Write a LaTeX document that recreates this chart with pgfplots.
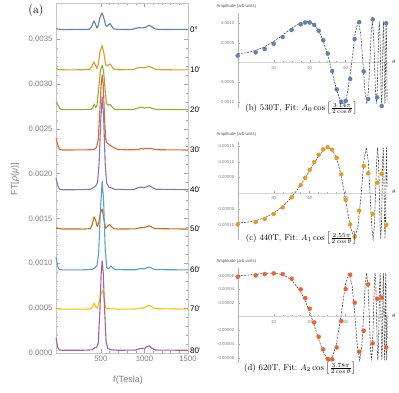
\documentclass[border=0pt]{standalone}
\usepackage{pgfplots}
\pgfplotsset{compat=1.18}
\usepackage{fontspec}
\newfontfamily\mma{Liberation Sans}
\definecolor{cA}{HTML}{5E81B5}
\definecolor{cB}{HTML}{E19C24}
\definecolor{cC}{HTML}{8FB032}
\definecolor{cD}{HTML}{EB6235}
\definecolor{cE}{HTML}{8778B3}
\definecolor{cF}{HTML}{C56E1A}
\definecolor{cG}{HTML}{5D9EC7}
\definecolor{cH}{HTML}{FFBF00}
\definecolor{cI}{HTML}{A5609D}

\pgfplotsset{
  rpanel/.style={scale only axis, anchor=south west, width=151.2pt,
    xmin=0, xmax=84, axis lines=middle, axis line style={-},
    x axis line style={gray!35, line width=1pt},
    y axis line style={gray!60, line width=0.4pt},
    xtick={20,40,60}, minor x tick num=3,
    tick style={gray!70, line width=0.4pt}, tick align=inside,
    major tick length=2.5pt, minor tick length=1.5pt,
    ticklabel style={font=\mma\fontsize{4.3}{5}\selectfont, text=gray},
    /pgf/number format/assume math mode=true,
    scaled y ticks=false, clip=false},
  fitline/.style={gray!60!black, line width=0.6pt, dash pattern=on 2pt off 1.2pt},
  pts/.style={only marks, mark=*, mark size=2pt},
  spec/.style={line width=1.1pt, line join=round},
}

\begin{document}
\begin{tikzpicture}
\useasboundingbox (0pt,0pt) rectangle (399pt,393pt);

% (a) spectra
\begin{axis}[at={(56pt,40pt)}, anchor=south west, scale only axis,
  width=132pt, height=350pt,
  xmin=-15, xmax=1500, ymin=0, ymax=0.0039,
  xtick={500,1000,1500}, ytick={0,0.0005,0.001,0.0015,0.002,0.0025,0.003,0.0035},
  minor x tick num=4, minor y tick num=4,
  tick align=inside, major tick length=4pt, minor tick length=2pt,
  axis line style={gray!45}, tick style={gray!70},
  ticklabel style={font=\mma\fontsize{7.8}{9}\selectfont, text=gray},
  /pgf/number format/assume math mode=true,
  /pgf/number format/1000 sep={},
  yticklabel style={/pgf/number format/.cd, fixed, fixed zerofill, precision=4},
  scaled y ticks=false, clip=false]
\addplot[spec, cA] coordinates {(-15,0.003612) (40,0.003606) (100,0.003603) (200,0.003606) (300,0.003604) (370,0.003608) (395,0.00364) (420,0.0037) (440,0.00366) (455,0.00362) (470,0.00365) (490,0.00374) (515,0.00379) (535,0.00373) (555,0.00365) (570,0.00364) (590,0.00366) (607,0.00367) (625,0.00364) (650,0.00361) (700,0.003606) (800,0.003604) (870,0.003608) (900,0.003618) (940,0.003625) (975,0.003622) (1010,0.003628) (1040,0.003645) (1060,0.00365) (1085,0.003635) (1120,0.003612) (1160,0.003606) (1250,0.003604) (1350,0.003606) (1500,0.003605)};
\addplot[spec, cB] coordinates {(-15,0.00317) (20,0.003158) (100,0.003155) (300,0.003156) (375,0.003162) (400,0.0032) (420,0.003244) (440,0.003205) (455,0.00317) (470,0.00322) (490,0.00336) (515,0.003426) (535,0.00334) (555,0.00321) (575,0.0032) (600,0.003222) (620,0.0032) (650,0.003162) (700,0.003156) (870,0.003158) (910,0.003175) (960,0.00318) (1000,0.003178) (1030,0.003188) (1055,0.003192) (1085,0.00318) (1120,0.003162) (1200,0.003156) (1500,0.003155)};
\addplot[spec, cC] coordinates {(-15,0.00279) (10,0.00276) (30,0.00272) (60,0.002712) (300,0.002713) (390,0.002716) (410,0.00274) (425,0.002775) (440,0.00273) (455,0.00276) (475,0.00295) (495,0.00315) (515,0.003206) (532,0.00313) (550,0.00292) (565,0.00278) (585,0.00276) (605,0.00277) (625,0.002745) (655,0.002716) (700,0.002713) (880,0.002714) (920,0.002728) (960,0.00274) (1000,0.00273) (1055,0.002738) (1100,0.002722) (1150,0.002714) (1500,0.002712)};
\addplot[spec, cD] coordinates {(-15,0.00239) (5,0.00232) (25,0.002268) (60,0.002262) (300,0.002263) (420,0.002266) (450,0.00229) (470,0.00238) (488,0.0027) (503,0.00298) (515,0.0031) (528,0.00298) (543,0.0026) (556,0.00238) (570,0.00234) (600,0.00232) (630,0.0023) (665,0.00228) (700,0.002268) (800,0.002264) (940,0.002266) (960,0.00228) (985,0.002272) (1010,0.00228) (1040,0.002276) (1070,0.002282) (1100,0.002272) (1150,0.002265) (1500,0.002262)};
\addplot[spec, cE] coordinates {(-15,0.00195) (5,0.00187) (25,0.001825) (60,0.001819) (300,0.00182) (380,0.001825) (410,0.00184) (440,0.00186) (462,0.0019) (480,0.00212) (498,0.00258) (515,0.002854) (532,0.00262) (550,0.0021) (567,0.00189) (590,0.00185) (620,0.00184) (660,0.001824) (800,0.00182) (880,0.001822) (920,0.00184) (960,0.001848) (1000,0.001842) (1030,0.001855) (1058,0.001865) (1090,0.001845) (1130,0.001825) (1500,0.001819)};
\addplot[spec, cF] coordinates {(-15,0.00139) (60,0.001382) (300,0.001381) (380,0.001385) (400,0.00143) (420,0.001515) (440,0.00148) (458,0.00141) (475,0.00145) (495,0.00156) (515,0.001604) (535,0.00149) (555,0.00139) (575,0.00141) (600,0.001433) (620,0.00141) (650,0.001385) (700,0.001381) (900,0.001383) (950,0.001395) (1000,0.001398) (1030,0.00141) (1055,0.001418) (1085,0.001402) (1120,0.001386) (1500,0.001381)};
\addplot[spec, cG] coordinates {(-15,0.00107) (5,0.00096) (25,0.00093) (60,0.000926) (300,0.000927) (400,0.00093) (430,0.00095) (455,0.00097) (475,0.00112) (495,0.0016) (515,0.001912) (532,0.00168) (550,0.00115) (568,0.00095) (590,0.00094) (615,0.00097) (635,0.00095) (660,0.00093) (800,0.000927) (900,0.000928) (950,0.00094) (1000,0.000938) (1030,0.00095) (1058,0.000958) (1090,0.00094) (1130,0.000929) (1500,0.000926)};
\addplot[spec, cH] coordinates {(-15,0.000492) (100,0.000488) (380,0.00049) (400,0.00051) (425,0.000555) (445,0.00051) (460,0.0005) (480,0.00057) (500,0.00066) (518,0.000695) (535,0.00062) (555,0.0005) (580,0.000495) (620,0.000492) (700,0.000488) (900,0.00049) (950,0.000502) (990,0.0005) (1030,0.00052) (1055,0.000532) (1085,0.000515) (1120,0.000494) (1500,0.000488)};
\addplot[spec, cI] coordinates {(-15,0.00017) (5,0.00006) (25,0.000034) (60,0.00003) (300,0.000031) (400,0.000035) (430,0.00006) (450,0.00006) (470,0.00011) (490,0.0005) (503,0.00088) (515,0.001027) (528,0.00088) (542,0.0005) (560,0.00012) (580,0.00005) (620,0.000035) (700,0.00003) (900,0.000033) (950,0.00005) (1000,0.000048) (1030,0.00007) (1058,0.00008) (1090,0.00005) (1130,0.000033) (1500,0.00003)};
\foreach \b/\t in {0.003605/0, 0.003155/10, 0.002712/20, 0.002262/30, 0.001819/40, 0.001381/50, 0.000926/60, 0.000488/70, 0.00003/80}{
  \edef\tmp{\noexpand\node[anchor=west, inner sep=0pt, xshift=2pt, font=\noexpand\mma\noexpand\fontsize{8}{9}\noexpand\selectfont] at (axis cs:1500,\b) {\t°};}
  \tmp
}
\end{axis}
\node[font=\fontsize{12}{14}\selectfont] at (36pt,382pt) {(a)};
\node[rotate=90, font=\mma\fontsize{9}{10}\selectfont, text=gray] at (15pt,214pt) {FT[\textit{ρ}(\textit{μ})]};
\node[font=\mma\fontsize{9}{10}\selectfont, text=gray] at (128pt,13pt) {f(Tesla)};

\fill[white] (200pt,0pt) rectangle (399pt,393pt);

% (b) 530T
\begin{axis}[rpanel, at={(237.7pt,285.4pt)}, height=94.1pt,
  ymin=-0.00115, ymax=0.00125,
  ytick={-0.001,-0.0005,0.0005,0.001}, minor y tick num=4,
  yticklabel style={/pgf/number format/.cd, fixed, fixed zerofill, precision=4}]
\addplot[fitline] coordinates {(0,0.000229) (5,0.000249) (10,0.000306) (15,0.000403) (20,0.000537) (25,0.0007) (30,0.000874) (35,0.001014) (37.5,0.001048) (38.28,0.00105) (40,0.001037) (42.5,0.000964) (45,0.000807) (47.5,0.000551) (50,0.000189) (52.5,-0.000257) (55,-0.000712) (57.5,-0.001019) (58.44,-0.00105) (60,-0.00095)
 (61.11,-0.000742) (63.35,0) (65.25,0.000742) (66.89,0.00105) (68.32,0.000742) (69.58,0) (70.70,-0.000742) (71.70,-0.00105) (72.60,-0.000742) (73.41,0) (74.16,0.000742) (74.83,0.00105) (75.45,0.000742) (76.02,0) (76.55,-0.000742) (77.04,-0.00105) (77.49,-0.000742) (77.92,0) (78.31,0.000742) (78.68,0.00105) (79.03,0.000742) (79.36,0) (79.66,-0.000742) (79.96,-0.00105) (80.23,-0.000742) (80.49,0) (80.74,0.000742) (80.97,0.00105) (81.19,0.000742) (81.40,0) (81.61,-0.000742) (81.80,-0.00105) (81.98,-0.000742) (82.15,0) (82.32,0.000742) (82.48,0.00105) (82.63,0.000742) (82.78,0) (82.93,-0.000742) (83,-0.00098)};
\addplot[pts, cA] coordinates {(0,0.000174) (10,0.00026) (15,0.000345) (20,0.00048) (25,0.00065) (30,0.00083) (35,0.000974) (37.5,0.00102) (40,0.00102) (42.5,0.00096) (45,0.00081) (47.5,0.00057) (50,0.000226) (52.5,-0.000217) (55,-0.000685) (57.5,-0.001) (60,-0.00098) (62.5,-0.00042) (65,0.0006) (67.5,0.00103) (70,-0.000226) (72.5,-0.00093) (75,0.0011) (77.5,-0.00089) (80,-0.00111) (82.5,0.001)};
\node[anchor=west, font=\fontsize{5}{6}\selectfont\itshape, inner sep=0pt, xshift=3pt, yshift=1pt] at (axis cs:84,0) {$\theta$};
\end{axis}
\node[anchor=west, font=\mma\fontsize{4.3}{5}\selectfont, text=gray!70!black] at (213pt,386.3pt) {Amplitude (arb units)};
\node[font=\fontsize{8.5}{10}\selectfont] at (301.3pt,284.7pt) {(b) 530T, Fit:\ $A_0\cos\left[\frac{3.14\pi}{2\cos\theta}\right]$};

% (c) 440T
\begin{axis}[rpanel, at={(237.7pt,153.2pt)}, height=97.6pt,
  ymin=-0.000148, ymax=0.000162,
  ytick={-0.0001,-0.00005,0.00005,0.0001,0.00015}, minor y tick num=4,
  yticklabel style={/pgf/number format/.cd, fixed, fixed zerofill, precision=5}]
\addplot[fitline] coordinates {(0,-0.0000942) (5,-0.0000924) (10,-0.0000873) (15,-0.0000777) (20,-0.0000631) (25,-0.0000419) (30,-0.0000126) (35,0.0000257) (37.5,0.0000479) (40,0.0000716) (42.5,0.0000957) (45,0.0001182) (47.5,0.000136) (50,0.0001448) (50.39,0.000145) (52.5,0.0001387) (55,0.0001109) (57.5,0.0000564) (60,-0.0000227)
 (62.38,-0.0001025) (64.85,-0.000145) (66.90,-0.0001025) (68.64,0) (70.12,0.0001025) (71.41,0.000145) (72.54,0.0001025) (73.54,0) (74.43,-0.0001025) (75.23,-0.000145) (75.94,-0.0001025) (76.60,0) (77.19,0.0001025) (77.73,0.000145) (78.23,0.0001025) (78.69,0) (79.11,-0.0001025) (79.51,-0.000145) (79.87,-0.0001025) (80.21,0) (80.53,0.0001025) (80.83,0.000145) (81.11,0.0001025) (81.37,0) (81.62,-0.0001025) (81.85,-0.000145) (82.08,-0.0001025) (82.29,0) (82.48,0.0001025) (82.67,0.000145) (82.85,0.0001025) (83,0.0000173)};
\addplot[pts, cB] coordinates {(0,-0.0000991) (10,-0.0000916) (15,-0.000082) (20,-0.000066) (25,-0.000045) (30,-0.000013) (35,0.000026) (37.5,0.000049) (40,0.000074) (42.5,0.000099) (45,0.000122) (47.5,0.000139) (50,0.000146) (52.5,0.000138) (55,0.000112) (57.5,0.00006) (60,-0.0000216) (62.5,-0.000099) (65,-0.000138) (67.5,-0.0000555) (70,0.0000863) (72.5,0.000063) (75,-0.000066) (77.5,0.0000335) (80,0.000061) (82.5,-0.000101)};
\node[anchor=west, font=\fontsize{5}{6}\selectfont\itshape, inner sep=0pt, xshift=3pt, yshift=1pt] at (axis cs:84,0) {$\theta$};
\end{axis}
\node[anchor=west, font=\mma\fontsize{4.3}{5}\selectfont, text=gray!70!black] at (213pt,258.5pt) {Amplitude (arb units)};
\node[font=\fontsize{8.5}{10}\selectfont] at (301.3pt,154.7pt) {(c) 440T, Fit:\ $A_1\cos\left[\frac{2.55\pi}{2\cos\theta}\right]$};

% (d) 620T
\begin{axis}[rpanel, at={(237.7pt,29.8pt)}, height=95pt,
  ymin=-0.000068, ymax=0.000071,
  ytick={-0.00006,-0.00004,-0.00002,0.00002,0.00004,0.00006}, minor y tick num=3,
  yticklabel style={/pgf/number format/.cd, fixed, fixed zerofill, precision=5}]
\addplot[fitline] coordinates {(0,0.0000602) (5,0.0000607) (10,0.000062) (15,0.0000634) (19.09,0.000064) (25,0.0000617) (30,0.0000538) (35,0.0000364) (37.5,0.0000231) (40,0.0000066) (42.5,-0.0000127) (45,-0.0000331) (47.5,-0.0000515) (50,-0.0000629) (50.95,-0.000064) (52.5,-0.0000606) (55,-0.0000384) (57.5,0.0000036) (60,0.0000493)
 (61.80,0.000064) (63.59,0.0000452) (65.17,0) (66.55,-0.0000452) (67.79,-0.000064) (68.90,-0.0000452) (69.90,0) (70.81,0.0000452) (71.64,0.000064) (72.40,0.0000452) (73.09,0) (73.74,-0.0000452) (74.34,-0.000064) (74.89,-0.0000452) (75.40,0) (75.88,0.0000452) (76.33,0.000064) (76.76,0.0000452) (77.15,0) (77.53,-0.0000452) (77.88,-0.000064) (78.21,-0.0000452) (78.53,0) (78.83,0.0000452) (79.11,0.000064) (79.37,0.0000452) (79.63,0) (79.87,-0.0000452) (80.11,-0.000064) (80.33,-0.0000452) (80.54,0) (80.74,0.0000452) (80.94,0.000064) (81.12,0.0000452) (81.30,0) (81.48,-0.0000452) (81.64,-0.000064) (81.80,-0.0000452) (81.95,0) (82.10,0.0000452) (82.24,0.000064) (82.38,0.0000452) (82.51,0) (82.64,-0.0000452) (82.76,-0.000064) (82.88,-0.0000452) (83.00,0)};
\addplot[pts, cD] coordinates {(0,0.0000585) (10,0.0000605) (15,0.0000624) (20,0.0000634) (25,0.0000624) (30,0.0000556) (35,0.00004) (37.5,0.0000273) (40,0.0000117) (42.5,-0.0000083) (45,-0.0000293) (47.5,-0.0000478) (50,-0.0000615) (52.5,-0.0000624) (55,-0.0000449) (57.5,-0.0000063) (60,0.0000405) (62.5,0.0000615) (65,0.0000205) (67.5,-0.0000512) (70,-0.0000205) (72.5,0.0000473) (75,-0.000039) (77.5,0.0000263) (80,0.0000278) (82.5,-0.0000449)};
\node[anchor=west, font=\fontsize{5}{6}\selectfont\itshape, inner sep=0pt, xshift=3pt, yshift=1pt] at (axis cs:84,0) {$\theta$};
\end{axis}
\node[anchor=west, font=\mma\fontsize{4.3}{5}\selectfont, text=gray!70!black] at (213pt,131.3pt) {Amplitude (arb units)};
\node[font=\fontsize{8.5}{10}\selectfont] at (300pt,24.7pt) {(d) 620T, Fit:\ $A_2\cos\left[\frac{3.78\pi}{2\cos\theta}\right]$};
\end{tikzpicture}
\end{document}
